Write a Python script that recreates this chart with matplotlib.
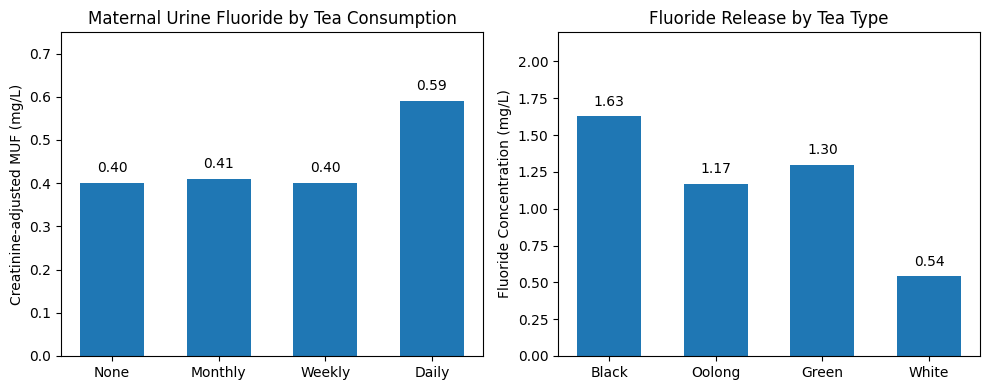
import matplotlib.pyplot as plt
import numpy as np

consumption = ["None", "Monthly", "Weekly", "Daily"]
muf_values = [0.40, 0.41, 0.40, 0.59]

tea_types = ["Black", "Oolong", "Green", "White"]
fluoride_values = [1.63, 1.17, 1.30, 0.54]

fig, (ax1, ax2) = plt.subplots(1, 2, figsize=(9.89, 3.9), dpi=100)

x1 = np.arange(len(consumption))
bars1 = ax1.bar(x1, muf_values, width=0.6, color="#1f77b4")
ax1.set_xticks(x1)
ax1.set_xticklabels(consumption)
ax1.set_ylim(0, 0.75)
ax1.set_yticks(np.arange(0, 0.71, 0.1))
ax1.set_ylabel("Creatinine-adjusted MUF (mg/L)")
ax1.set_title("Maternal Urine Fluoride by Tea Consumption")
for b, v in zip(bars1, muf_values):
    ax1.text(b.get_x() + b.get_width() / 2, v + 0.018, f"{v:.2f}",
             ha="center", va="bottom")

x2 = np.arange(len(tea_types))
bars2 = ax2.bar(x2, fluoride_values, width=0.6, color="#1f77b4")
ax2.set_xticks(x2)
ax2.set_xticklabels(tea_types)
ax2.set_ylim(0, 2.2)
ax2.set_yticks(np.arange(0, 2.01, 0.25))
ax2.set_ylabel("Fluoride Concentration (mg/L)")
ax2.set_title("Fluoride Release by Tea Type")
for b, v in zip(bars2, fluoride_values):
    ax2.text(b.get_x() + b.get_width() / 2, v + 0.05, f"{v:.2f}",
             ha="center", va="bottom")

plt.subplots_adjust(left=0.0617, right=0.991, top=0.918, bottom=0.0872, wspace=0.178)
plt.savefig("out.png")
